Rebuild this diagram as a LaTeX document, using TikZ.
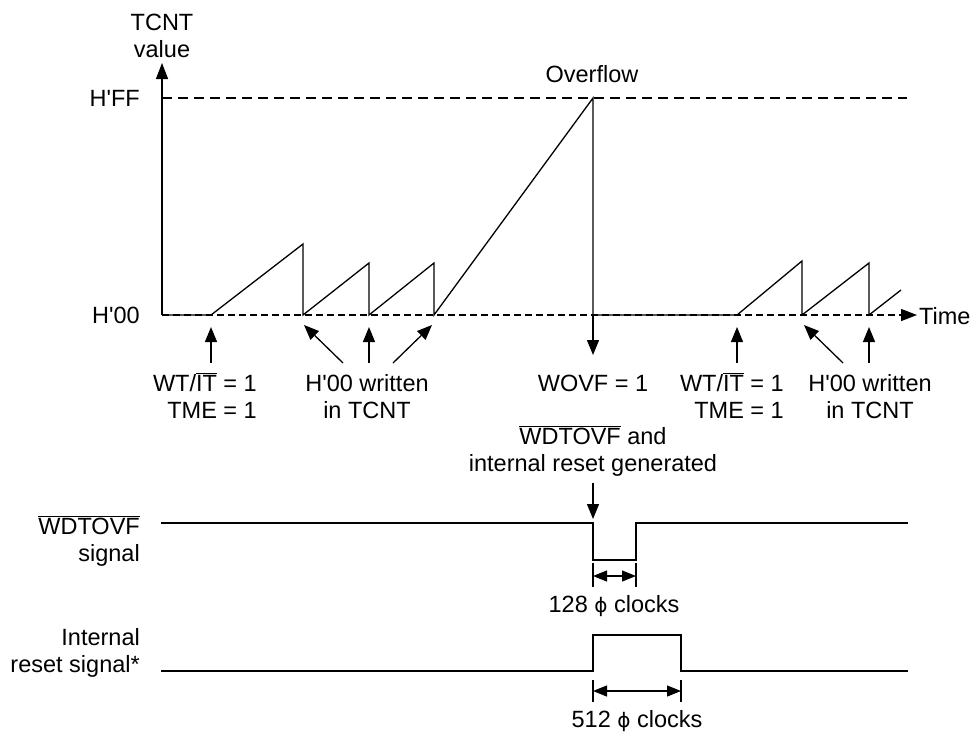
\documentclass[tikz,border=0pt]{standalone}
\usepackage{fontspec}
\setmainfont{Liberation Sans}
\newfontfamily\phifont{DejaVu Sans}
\usetikzlibrary{arrows.meta, positioning}
\newcommand{\ovl}[1]{$\overline{\mbox{#1}}$}
\newcommand{\ap}{\textquotesingle}
\newcommand{\ph}{{\phifont\fontsize{20}{27}\selectfont ϕ}}

\begin{document}
\begin{tikzpicture}[x=1pt, y=-1pt,
    sig/.style={line width=1.3pt, line join=miter},
    axis/.style={line width=1.3pt, -{Triangle[length=16pt, width=12pt]}},
    ptr/.style={line width=1.3pt, -{Triangle[length=15pt, width=12pt]}},
    dim/.style={line width=1.2pt, {Triangle[length=14pt, width=11pt]}-{Triangle[length=14pt, width=11pt]}},
    lbl/.style={font=\fontsize{23.5}{27}\selectfont, inner sep=0pt, align=center}
]
    \useasboundingbox (0,0) rectangle (974,734);

    % Axes
    \coordinate (O) at (162,315);
    \draw[axis] (O) -- (162,63) coordinate (ytip);
    \draw[line width=1.2pt, dash pattern=on 10pt off 6pt] (162,98) -- (907,98);
    \draw[axis, dash pattern=on 7pt off 4pt] (O) -- (917,315) coordinate (xtip);
    \node[lbl, anchor=base] (yname) at (162,57) {TCNT\\value};
    \node[lbl, anchor=west] (xname) at (919,316) {Time};
    \node[lbl, anchor=east] (hff) at (140,98) {H\ap FF};
    \node[lbl, anchor=east] (h00) at (140,315) {H\ap 00};

    % TCNT count
    \draw[sig] (O) -- (211,315) -- (303,244) -- (303,315) -- (369,263) -- (369,315)
        -- (434,263) -- (434,315) -- (593,98) coordinate (ovf) -- (593,315) -- (737,315)
        -- (802,261) -- (802,315) -- (869,263) -- (869,315) -- (901,290);
    \node[lbl, anchor=base] (ovfname) at (592,82) {Overflow};

    % Events
    \draw[ptr] (211,363) -- (211,327);
    \draw[ptr] (343,363) -- (304,325);
    \draw[ptr] (369,363) -- (369,327);
    \draw[ptr] (393,363) -- (432,325);
    \draw[ptr] (593,315) -- (593,355);
    \draw[ptr] (737,363) -- (737,327);
    \draw[ptr] (843,363) -- (804,325);
    \draw[ptr] (869,363) -- (869,327);
    \node[lbl, anchor=base east, align=right] (set1) at (257,418) {WT/\ovl{IT} = 1\\TME = 1};
    \node[lbl, anchor=base] (clr1) at (367,418) {H\ap 00 written\\in TCNT};
    \node[lbl, anchor=base] (wovf) at (593,391) {WOVF = 1};
    \node[lbl, anchor=base east, align=right] (set2) at (784,418) {WT/\ovl{IT} = 1\\TME = 1};
    \node[lbl, anchor=base] (clr2) at (870,418) {H\ap 00 written\\in TCNT};

    % Output signals
    \node[lbl, anchor=base] (gen) at (593,471) {\ovl{WDTOVF} and\\internal reset generated};
    \draw[ptr] (593,483) -- (593,519);
    \draw[sig] (161,523) -- (593,523) -- (593,560) -- (636,560) -- (636,523) -- (908,523);
    \node[lbl, anchor=base east, align=right] (wdt) at (140,561) {\ovl{WDTOVF}\\signal};
    \draw[line width=1.2pt] (593,563) -- (593,587) (636,563) -- (636,587);
    \draw[dim] (593,576) -- (636,576);
    \node[lbl, anchor=base] (w128) at (614,612) {128 \ph\ clocks};

    \draw[sig] (161,671) -- (593,671) -- (593,635) -- (681,635) -- (681,671) -- (908,671);
    \node[lbl, anchor=base east, align=right] (rst) at (140,672) {Internal\\reset signal*};
    \draw[line width=1.2pt] (593,680) -- (593,702) (681,680) -- (681,702);
    \draw[dim] (593,691) -- (681,691);
    \node[lbl, anchor=base] (w512) at (637,727) {512 \ph\ clocks};
\end{tikzpicture}
\end{document}
